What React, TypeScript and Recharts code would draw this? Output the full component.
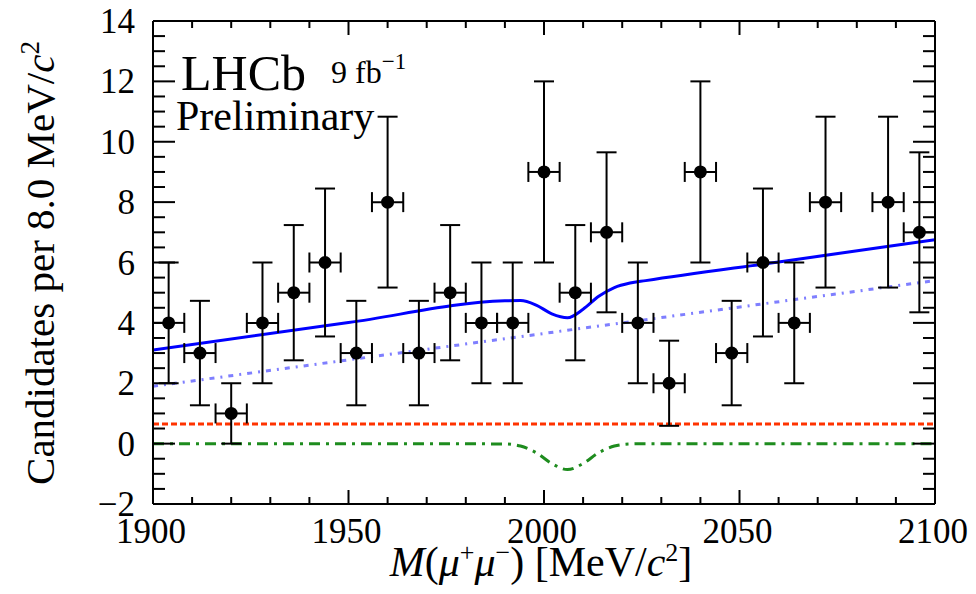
import React from 'react';
import { ComposedChart, Line, Scatter, ErrorBar, XAxis, YAxis, ReferenceLine } from 'recharts';

// binned dimuon candidates (8 MeV bins; the empty 2080 bin is not drawn)
const binCenters = [1904, 1912, 1920, 1928, 1936, 1944, 1952, 1960, 1968, 1976, 1984, 1992, 2000, 2008, 2016, 2024, 2032, 2040, 2048, 2056, 2064, 2072, 2088, 2096];
const counts = [4, 3, 1, 4, 5, 6, 3, 8, 3, 5, 4, 4, 9, 5, 7, 4, 2, 9, 3, 6, 4, 8, 8, 7];
const countErrors = [2, 1.73, 1, 2, 2.24, 2.45, 1.73, 2.83, 1.73, 2.24, 2, 2, 3, 2.24, 2.65, 2, 1.41, 3, 1.73, 2.45, 2, 2.83, 2.83, 2.65];
const BIN_HALF_WIDTH = 4;

// fit curves sampled along the mass axis
const curveMass = [1900, 1950, 1990, 1994, 1998, 2002, 2006, 2010, 2014, 2018, 2022, 2026, 2060, 2100];
const totalFit = [3.1, 4.01, 4.73, 4.74, 4.59, 4.3, 4.17, 4.45, 4.88, 5.17, 5.32, 5.4, 6.02, 6.75];
const signalFit = [0, 0, -0.01, -0.08, -0.3, -0.66, -0.86, -0.66, -0.3, -0.08, -0.01, 0, 0, 0];
const combMass = [1900, 2100];
const combFit = [1.9, 5.4];
const peakingFit = [0.65, 0.65];

const xMajor = [1900, 1950, 2000, 2050, 2100];
const xTicks = Array.from({ length: 21 }, (_, i) => 1900 + i * 10);
const yMajor = [-2, 0, 2, 4, 6, 8, 10, 12, 14];
const yTicks = Array.from({ length: 33 }, (_, i) => -2 + i * 0.5);

const W = 976;
const H = 594;
const PLOT = { left: 153, top: 21, right: 935, bottom: 504 };
const PLOT_W = PLOT.right - PLOT.left;
const PLOT_H = PLOT.bottom - PLOT.top;
const FONT = '"Liberation Serif", "Times New Roman", serif';

const points = binCenters.map((x, i) => ({ x, y: counts[i], ex: BIN_HALF_WIDTH, ey: countErrors[i] }));
const total = curveMass.map((x, i) => ({ x, y: totalFit[i] }));
const signal = curveMass.map((x, i) => ({ x, y: signalFit[i] }));
const comb = combMass.map((x, i) => ({ x, y: combFit[i] }));
const peaking = combMass.map((x, i) => ({ x, y: peakingFit[i] }));

// ROOT-style ticks: drawn inward on both the bottom and top frame edges
const XTick = (props: any) => {
  const { x, y, payload } = props;
  const major = xMajor.includes(payload.value);
  const len = major ? 14 : 7;
  return (
    <g>
      <line x1={x} x2={x} y1={y} y2={y - len} stroke="#000" strokeWidth={2} />
      <line x1={x} x2={x} y1={y - PLOT_H} y2={y - PLOT_H + len} stroke="#000" strokeWidth={2} />
      {major && (
        <text x={x - 2} y={y + 39} textAnchor="middle" fontFamily={FONT} fontSize={35} fill="#000">
          {payload.value}
        </text>
      )}
    </g>
  );
};

// same for the left and right edges
const YTick = (props: any) => {
  const { x, y, payload } = props;
  const major = yMajor.includes(payload.value);
  const len = major ? 22 : 12;
  const label = payload.value < 0 ? `\u2212${Math.abs(payload.value)}` : `${payload.value}`;
  return (
    <g>
      <line x1={x} x2={x + len} y1={y} y2={y} stroke="#000" strokeWidth={2} />
      <line x1={x + PLOT_W} x2={x + PLOT_W - len} y1={y} y2={y} stroke="#000" strokeWidth={2} />
      {major && (
        <text x={x - 18} y={y + 12} textAnchor="end" fontFamily={FONT} fontSize={35} fill="#000">
          {label}
        </text>
      )}
    </g>
  );
};

const Marker = (props: any) => <circle cx={props.cx} cy={props.cy} r={6.5} fill="#000" />;

export default function App() {
  return (
    <div style={{ position: 'absolute', left: 0, top: 0, width: W, height: H, background: '#fff' }}>
      <ComposedChart
        width={W}
        height={H}
        margin={{ top: PLOT.top, right: W - PLOT.right, bottom: 0, left: 0 }}
      >
        <XAxis
          dataKey="x"
          type="number"
          domain={[1900, 2100]}
          ticks={xTicks}
          interval={0}
          height={H - PLOT.bottom}
          tickSize={0}
          tickMargin={0}
          tickLine={false}
          axisLine={{ stroke: '#000', strokeWidth: 2 }}
          tick={<XTick />}
          allowDataOverflow
        />
        <YAxis
          type="number"
          domain={[-2, 14]}
          ticks={yTicks}
          interval={0}
          width={PLOT.left}
          tickSize={0}
          tickMargin={0}
          tickLine={false}
          axisLine={{ stroke: '#000', strokeWidth: 2 }}
          tick={<YTick />}
          allowDataOverflow
        />
        <ReferenceLine y={14} stroke="#000" strokeWidth={2} />
        <ReferenceLine x={2100} stroke="#000" strokeWidth={2} />

        <Line data={peaking} dataKey="y" type="linear" stroke="#ff3300" strokeWidth={3} strokeDasharray="6 3" dot={false} isAnimationActive={false} />
        <Line data={signal} dataKey="y" type="monotone" stroke="#1e8c1e" strokeWidth={3} strokeDasharray="11 6 3 6" dot={false} isAnimationActive={false} />
        <Line data={comb} dataKey="y" type="linear" stroke="#7f7fff" strokeWidth={3} strokeDasharray="5 6 2 6" dot={false} isAnimationActive={false} />
        <Line data={total} dataKey="y" type="monotone" stroke="#0000ff" strokeWidth={3} dot={false} isAnimationActive={false} />

        <Scatter data={points} dataKey="y" shape={<Marker />} isAnimationActive={false}>
          <ErrorBar dataKey="ey" direction="y" width={10} stroke="#000" strokeWidth={2} />
          <ErrorBar dataKey="ex" direction="x" width={10} stroke="#000" strokeWidth={2} />
        </Scatter>
      </ComposedChart>

      <svg width={W} height={H} style={{ position: 'absolute', left: 0, top: 0, pointerEvents: 'none' }} fontFamily={FONT} fill="#000">
        <text x={181} y={90} fontSize={50}>LHCb</text>
        <text x={331} y={83} fontSize={32}>
          9 fb<tspan dy={-14} fontSize={23}>{'\u2212'}1</tspan>
        </text>
        <text x={176} y={130} fontSize={42}>Preliminary</text>
        <text transform="translate(54, 263) rotate(-90)" textAnchor="middle" fontSize={41}>
          Candidates per 8.0 MeV/<tspan fontStyle="italic">c</tspan>
          <tspan dy={-15} fontSize={27}>2</tspan>
        </text>
        <text x={541} y={576} textAnchor="middle" fontSize={42}>
          <tspan fontStyle="italic">M</tspan>(<tspan fontStyle="italic">μ</tspan>
          <tspan dy={-15} fontSize={26}>+</tspan>
          <tspan dy={15} fontStyle="italic">μ</tspan>
          <tspan dy={-15} fontSize={26}>{'\u2212'}</tspan>
          <tspan dy={15}>) [MeV/</tspan>
          <tspan fontStyle="italic">c</tspan>
          <tspan dy={-15} fontSize={26}>2</tspan>
          <tspan dy={15}>]</tspan>
        </text>
      </svg>
    </div>
  );
}
